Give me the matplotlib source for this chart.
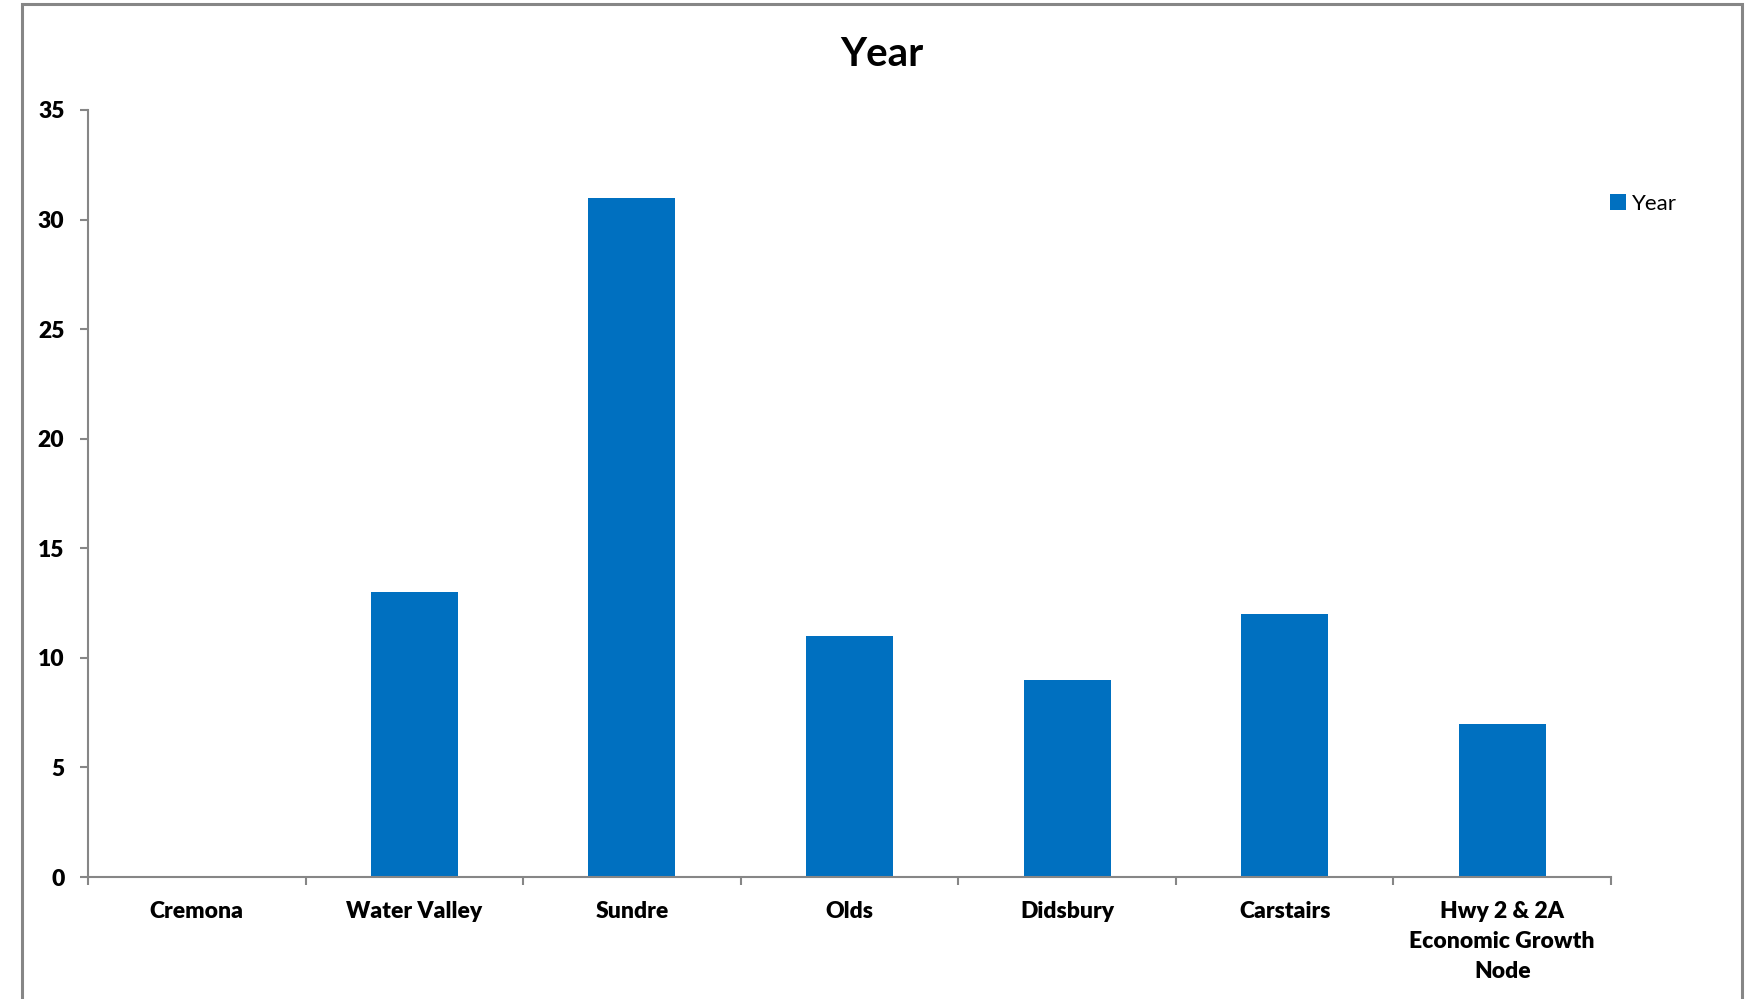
import matplotlib.pyplot as plt
from matplotlib.patches import Rectangle
import numpy as np

plt.rcParams['font.family'] = ['Lato', 'DejaVu Sans']

categories = ['Cremona', 'Water Valley', 'Sundre', 'Olds', 'Didsbury', 'Carstairs',
              'Hwy 2 & 2A\nEconomic Growth\nNode']
values = [0, 13, 31, 11, 9, 12, 7]
yticks = [0, 5, 10, 15, 20, 25, 30, 35]

bar_color = '#0070C0'
axis_gray = '#868686'

W, H = 1754, 999
fig = plt.figure(figsize=(W / 100, H / 100), dpi=100)

# outer chart frame, runs off the bottom edge
fig.patches.append(Rectangle((22 / W, -0.05), (1742 - 22) / W, 1.05 - 4 / H,
                             transform=fig.transFigure, fill=False,
                             edgecolor=axis_gray, linewidth=2.2))

ax = fig.add_axes([88 / W, 1 - 877 / H, (1611 - 88) / W, (877 - 110) / H])
x = np.arange(len(categories))
ax.bar(x, values, width=0.4, color=bar_color, label='Year', zorder=2)

ax.set_xlim(-0.5, len(categories) - 0.5)
ax.set_ylim(0, 35)
ax.set_yticks(yticks)
ax.set_yticklabels([str(v) for v in yticks], fontsize=16.5, fontweight='heavy')
ax.set_xticks(x)
ax.set_xticklabels(categories, fontsize=16.5, fontweight='heavy', linespacing=1.55)
ax.set_xticks(np.arange(len(categories) + 1) - 0.5, minor=True)
ax.tick_params(axis='x', which='major', length=0, pad=17)
ax.tick_params(axis='x', which='minor', length=6, width=1.5, color=axis_gray)
ax.tick_params(axis='y', length=6, width=1.5, color=axis_gray, pad=11)

for side in ['top', 'right']:
    ax.spines[side].set_visible(False)
for side in ['left', 'bottom']:
    ax.spines[side].set_color(axis_gray)
    ax.spines[side].set_linewidth(1.5)

fig.text(882 / W, 1 - 55 / H, 'Year', ha='center', va='center',
         fontsize=29, fontweight='bold')

leg = ax.legend(loc='upper left', bbox_to_anchor=(1590 / W, 1 - 174 / H),
                bbox_transform=fig.transFigure, frameon=False, fontsize=16,
                handlelength=0.7, handleheight=0.7, handletextpad=0.3)

fig.savefig('out.png', dpi=100, facecolor='white')
